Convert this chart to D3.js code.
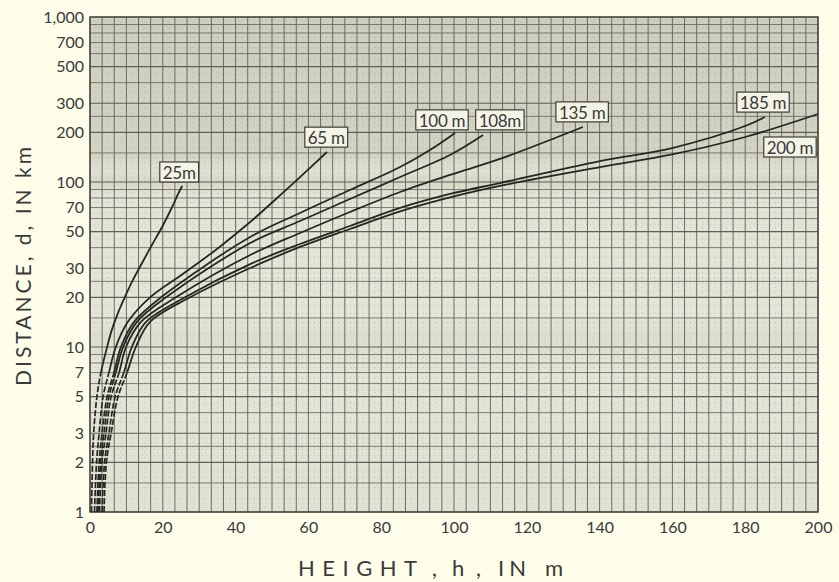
<!DOCTYPE html>
<html><head><meta charset="utf-8">
<script src="https://cdn.jsdelivr.net/npm/d3@7"></script>
<style>
html,body{margin:0;padding:0;background:#fdfde9;}
svg{display:block;}
text{font-family:Lato,"DejaVu Sans",sans-serif;fill:#3a3a3a;}
</style></head>
<body>
<svg id="chart" width="839" height="582"></svg>
<script>
// ---- data (h in m, d in km) ----
const xTicks = [0,20,40,60,80,100,120,140,160,180,200];
const yTicks = [1,2,3,5,7,10,20,30,50,70,100,200,300,500,700,1000];
const curveLabels = ["25m","65 m","100 m","108m","135 m","185 m","200 m"];
const c25  = [[0.4,1],[0.7,2],[1.0,3],[1.9,5],[3.0,7],[4.7,10],[6.0,12.7],[7.7,16.1],[9.6,20.1],[11.8,25.5],[14.3,32.3],[17.0,41.5],[19.8,53.4],[22.3,68.6],[24.2,84.6],[25.3,94.6]];
const c65  = [[1.24,1],[1.8,2],[2.5,3],[3.6,5],[5.2,7],[7.1,10],[10.4,14.2],[16.5,20],[25.5,27.7],[34.9,39.3],[44,57.2],[51.4,80],[57.7,107],[65.1,152]];
const c100 = [[1.9,1],[2.5,2],[3.3,3],[4.7,5],[6.6,7],[8.5,10],[12.1,14.2],[19.5,20],[44,46.4],[57.7,64.9],[71.4,89.4],[85.2,123.3],[93.4,156.3],[100.3,198.2]];
const c108 = [[2.2,1],[2.9,2],[3.85,3],[5.2,5],[7.1,7],[9.1,10],[12.9,14.2],[20.9,20],[44,42.7],[57.7,58.0],[71.4,78.9],[85.2,107.2],[98.9,145.8],[108,192.7]];
const c135 = [[2.6,1],[3.3,2],[4.4,3],[5.8,5],[8.0,7],[9.9,10],[14.0,14.2],[23.6,20],[44,36.1],[57.7,49.1],[71.4,65.8],[85.2,87.0],[98.9,110.3],[112.6,137.9],[135.4,215.4]];
const c185 = [[3.3,1],[4.0,2],[5.2,3],[6.9,5],[9.3,7],[11.5,10],[15.4,14.2],[26.1,20],[44,31.8],[57.7,42.1],[71.4,54.1],[85.2,69.6],[98.9,84.6],[112.6,98.6],[140.1,134],[159.9,160.7],[180,218.5],[185.4,247.7]];
const c200 = [[3.85,1],[4.5,2],[5.8,3],[7.7,5],[10.2,7],[12.6,10],[16.5,14.2],[27.5,20],[44,30.1],[57.7,40.4],[71.4,51.9],[85.2,66.3],[98.9,80.6],[112.6,94.6],[140.1,123],[159.9,146.8],[180,187.4],[200,258.3]];
const curves = [c25,c65,c100,c108,c135,c185,c200];
// label box centres [h, d]
const labelPos = [[24.5,115],[64.9,187],[96.7,238],[112.6,238],[135.2,266],[184.9,305],[192.3,163]];
const dashBelow = 7; // curves are drawn dashed below this distance

// ---- layout ----
const svg = d3.select("#chart");
const L=90, R=818, T=17, B=512;
const x = d3.scaleLinear().domain([0,200]).range([L,R]);
const y = d3.scaleLog().domain([1,1000]).range([B,T]);

const defs = svg.append("defs");
const grad = defs.append("linearGradient").attr("id","bg").attr("x1",0).attr("y1",0).attr("x2",0).attr("y2",1);
[[0,"#cfcfc0"],[0.28,"#d4d4c5"],[0.31,"#e2e2d4"],[0.33,"#d8d8c9"],[0.36,"#e4e4d6"],[0.6,"#e6e6d8"],[0.65,"#dedecf"],[0.7,"#e5e5d7"],[1,"#e2e2d4"]]
  .forEach(s=>grad.append("stop").attr("offset",s[0]).attr("stop-color",s[1]));
defs.append("clipPath").attr("id","lowClip").append("rect")
  .attr("x",0).attr("y",y(dashBelow)).attr("width",839).attr("height",582-y(dashBelow));
defs.append("clipPath").attr("id","highClip").append("rect")
  .attr("x",0).attr("y",0).attr("width",839).attr("height",y(dashBelow));

svg.append("rect").attr("x",L).attr("y",T).attr("width",R-L).attr("height",B-T).attr("fill","url(#bg)");

const g = svg.append("g");
const fineX = d3.range(0,200,200/120).filter((v,i)=>i%2===1);
g.selectAll(".fx").data(fineX).enter().append("line")
  .attr("x1",d=>x(d)).attr("x2",d=>x(d)).attr("y1",T).attr("y2",B)
  .attr("stroke","#777").attr("stroke-width",0.6).attr("stroke-dasharray","1,4").attr("opacity",0.5);
const fineY = [];
[1,10,100].forEach(p=>[1.2,1.4,1.6,1.8,2.2,2.4,2.6,2.8,3.5,4.5,5.5,6.5,7.5,8.5,9.5].forEach(m=>fineY.push(m*p)));
g.selectAll(".fy").data(fineY).enter().append("line")
  .attr("x1",L).attr("x2",R).attr("y1",d=>y(d)).attr("y2",d=>y(d))
  .attr("stroke","#777").attr("stroke-width",0.6).attr("stroke-dasharray","1,3").attr("opacity",0.5);

const gx = d3.range(0,61).map(i=>i*200/60);
g.selectAll(".vx").data(gx).enter().append("line")
  .attr("x1",d=>x(d)).attr("x2",d=>x(d)).attr("y1",T).attr("y2",B)
  .attr("stroke","#5f5f57").attr("stroke-width",0.9);
const gy = [];
[1,10,100].forEach(p=>[1,1.5,2,2.5,3,4,5,6,7,8,9].forEach(m=>gy.push(m*p)));
gy.push(1000);
g.selectAll(".hy").data(gy).enter().append("line")
  .attr("x1",L).attr("x2",R).attr("y1",d=>y(d)).attr("y2",d=>y(d))
  .attr("stroke","#5f5f57").attr("stroke-width",d=>[1,2,3,5,10,20,30,50,100,200,300,500].includes(d)?1.1:0.8);

svg.append("rect").attr("x",L).attr("y",T).attr("width",R-L).attr("height",B-T)
  .attr("fill","none").attr("stroke","#44443e").attr("stroke-width",1.4);

// curves: same geometry, dashed part clipped below dashBelow, solid above
const line = d3.line().x(p=>x(p[0])).y(p=>y(p[1])).curve(d3.curveCatmullRom.alpha(0.5));
curves.forEach(c=>{
  const dstr = line(c);
  svg.append("path").attr("d",dstr).attr("fill","none").attr("clip-path","url(#lowClip)")
    .attr("stroke","#262622").attr("stroke-width",1.7).attr("stroke-dasharray","6,2");
  svg.append("path").attr("d",dstr).attr("fill","none").attr("clip-path","url(#highClip)")
    .attr("stroke","#262622").attr("stroke-width",1.8);
});

curveLabels.forEach((t,i)=>{
  const cx = x(labelPos[i][0]), cy = y(labelPos[i][1]);
  const tx = svg.append("text").attr("x",cx).attr("y",cy+0.5).attr("text-anchor","middle")
    .attr("dominant-baseline","central").attr("font-size",17).attr("letter-spacing",-0.3).text(t);
  const bb = tx.node().getBBox();
  svg.insert("rect", () => tx.node()).attr("x",bb.x-3).attr("y",cy-10).attr("width",bb.width+6).attr("height",20)
    .attr("fill","#f3f3e6").attr("stroke","#3c3c36").attr("stroke-width",1.2);
});

const xAxis = d3.axisBottom(x).tickValues(xTicks).tickSize(0).tickPadding(10).tickFormat(d3.format("d"));
const ax = svg.append("g").attr("transform",`translate(0,${B})`).call(xAxis);
ax.select(".domain").remove();
ax.selectAll("text").attr("font-size",16).attr("fill","#3a3a3a").style("font-family","Lato, DejaVu Sans, sans-serif");

const yAxis = d3.axisLeft(y).tickValues(yTicks).tickSize(0).tickPadding(6).tickFormat(d3.format(","));
const ay = svg.append("g").attr("transform",`translate(${L},0)`).call(yAxis);
ay.select(".domain").remove();
ay.selectAll("text").attr("font-size",16).attr("fill","#3a3a3a").style("font-family","Lato, DejaVu Sans, sans-serif");

// axis titles
const xt = svg.append("text").attr("y",576).attr("font-size",22).attr("letter-spacing",5);
[["HEIGHT",298,7.5],[",",432,0],["h",452,0],[",",476,0],["IN",498,5],["m",545,0]].forEach(p=>
  xt.append("tspan").attr("x",p[1]).attr("letter-spacing",p[2]).text(p[0]));
svg.append("text").attr("transform","translate(31,265) rotate(-90)").attr("text-anchor","middle")
  .attr("font-size",21).attr("letter-spacing",3).text("DISTANCE, d, IN km");
</script>
</body></html>
